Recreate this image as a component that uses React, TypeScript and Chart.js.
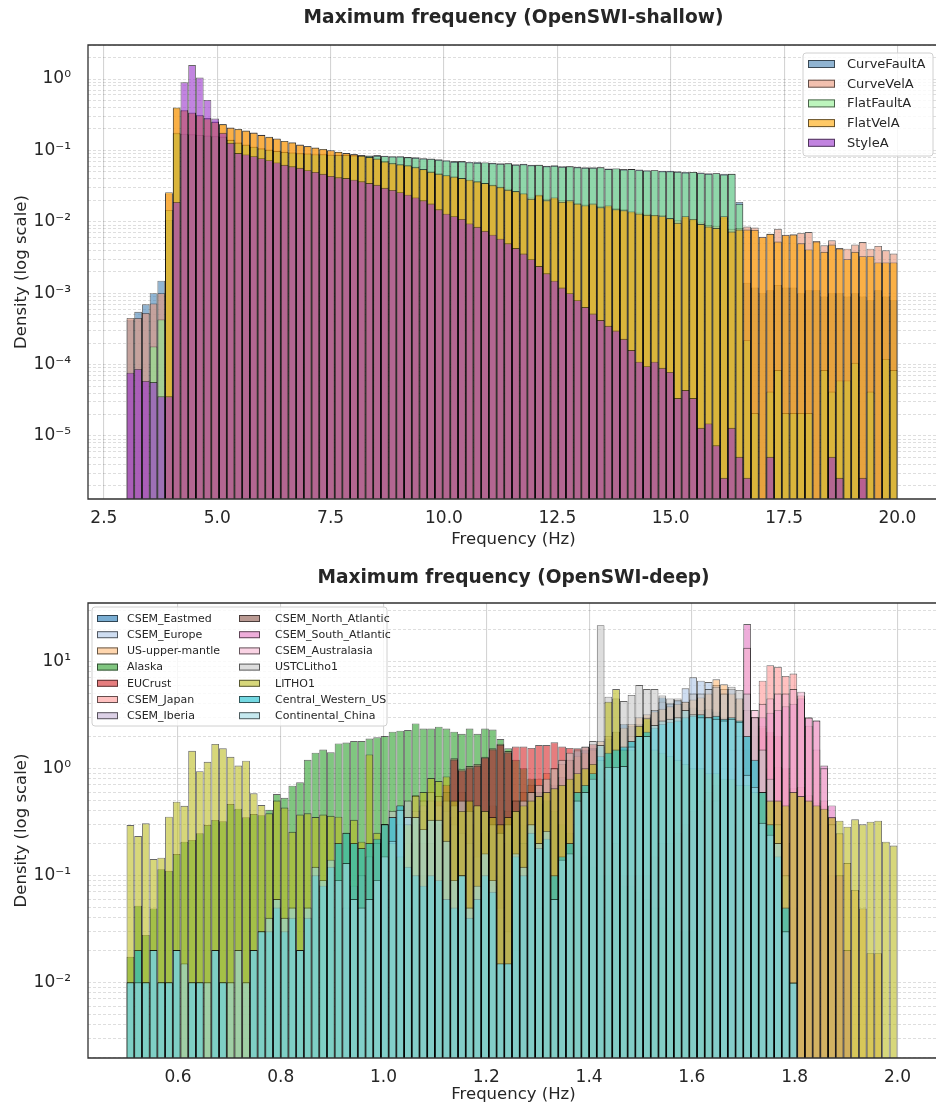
import React, { useEffect, useRef } from "react";
import { Chart, registerables } from "chart.js";

Chart.register(...registerables);

const N = null;
const FONT = '"DejaVu Sans", Verdana, sans-serif';
const TEXT = "#262626";
const FILL_ALPHA = 0.6;

// ================= OpenSWI-shallow =================
const SHALLOW_TITLE = "Maximum frequency (OpenSWI-shallow)";
const SHALLOW_BIN_START = 3.0;
const SHALLOW_BIN_WIDTH = 0.17;
const SHALLOW_X_TICKS = [2.5, 5.0, 7.5, 10.0, 12.5, 15.0, 17.5, 20.0];
const SHALLOW_NAMES = ["CurveFaultA", "CurveVelA", "FlatFaultA", "FlatVelA", "StyleA"];
const SHALLOW_COLORS = ["#4682b4", "#e9967a", "#90ee90", "#ffa500", "#9932cc"];

const curveFaultA = [
  4.3e-4, 5.5e-4, 7.0e-4, 1.0e-3, 1.5e-3, 0.0106, 0.17, 0.17, 0.166, 0.163,
  0.16, 0.157, 0.157, 0.142, 0.13, 0.121, 0.114, 0.108, 0.103, 0.099,
  0.097, 0.094, 0.093, 0.091, 0.09, 0.089, 0.088, 0.087, 0.088, 0.086,
  0.086, 0.085, 0.086, 0.084, 0.083, 0.083, 0.081, 0.08, 0.078, 0.077,
  0.075, 0.073, 0.071, 0.071, 0.069, 0.069, 0.068, 0.067, 0.066, 0.066,
  0.064, 0.065, 0.063, 0.063, 0.061, 0.062, 0.06, 0.06, 0.059, 0.058,
  0.058, 0.058, 0.056, 0.056, 0.055, 0.055, 0.054, 0.053, 0.053, 0.052,
  0.052, 0.051, 0.05, 0.05, 0.049, 0.048, 0.048, 0.047, 0.047, 0.019,
  1.4e-3, 1.2e-3, 1.0e-3, 1.1e-3, 1.3e-3, 1.2e-3, 1.2e-3, 1.0e-3, 1.1e-3, 1.1e-3,
  9e-4, 1.0e-3, 1.0e-3, 9e-4, 1.0e-3, 9e-4, 8e-4, 1.1e-3, 9e-4, 8e-4,
];
const curveVelA = [
  4.5e-4, 4.5e-4, 5.3e-4, 7.2e-4, 1.0e-3, 0.025, 0.39, 0.36, 0.335, 0.31,
  0.285, 0.255, 0.23, 0.21, 0.198, 0.188, 0.178, 0.166, 0.153, 0.147,
  0.135, 0.128, 0.121, 0.114, 0.109, 0.104, 0.101, 0.095, 0.091, 0.089,
  0.084, 0.08, 0.076, 0.071, 0.067, 0.063, 0.061, 0.059, 0.054, 0.051,
  0.048, 0.044, 0.042, 0.041, 0.038, 0.036, 0.035, 0.032, 0.03, 0.029,
  0.026, 0.025, 0.022, 0.023, 0.021, 0.021, 0.02, 0.019, 0.018, 0.0175,
  0.017, 0.0165, 0.016, 0.0155, 0.015, 0.0135, 0.0135, 0.013, 0.012, 0.0125,
  0.011, 0.0105, 0.0115, 0.0105, 0.0098, 0.009, 0.0088, 0.0115, 0.008, 0.0082,
  0.0086, 0.0083, 0.0062, 0.0068, 0.008, 0.0066, 0.0067, 0.007, 0.0072, 0.0054,
  0.0047, 0.0055, 0.0043, 0.0042, 0.0048, 0.0052, 0.0042, 0.0046, 0.004, 0.0036,
];
const flatFaultA = [
  N, N, N, 1.8e-4, 4.3e-4, 0.0147, 0.177, 0.172, 0.168, 0.165,
  0.162, 0.158, 0.155, 0.14, 0.128, 0.12, 0.112, 0.106, 0.102, 0.098,
  0.095, 0.093, 0.091, 0.09, 0.088, 0.088, 0.087, 0.086, 0.086, 0.085,
  0.085, 0.084, 0.084, 0.083, 0.082, 0.082, 0.08, 0.079, 0.077, 0.076,
  0.074, 0.072, 0.069, 0.07, 0.068, 0.067, 0.068, 0.066, 0.065, 0.066,
  0.063, 0.064, 0.062, 0.063, 0.06, 0.061, 0.059, 0.06, 0.058, 0.057,
  0.057, 0.058, 0.055, 0.056, 0.054, 0.055, 0.053, 0.052, 0.053, 0.051,
  0.051, 0.05, 0.049, 0.05, 0.048, 0.047, 0.048, 0.046, 0.047, 0.0178,
  2.2e-4, 2.1e-5, N, 4.2e-5, 8.4e-5, 2.1e-5, 2.1e-5, 2.1e-5, 2.1e-5, N,
  8.4e-5, 4.2e-5, 6e-5, 6e-5, 1.06e-4, N, 4.2e-5, N, 1.2e-4, 8.4e-5,
];
const flatVelA = [
  N, N, N, N, N, 0.026, 0.40, 0.37, 0.34, 0.31,
  0.28, 0.25, 0.234, 0.208, 0.2, 0.19, 0.177, 0.164, 0.155, 0.146,
  0.136, 0.13, 0.12, 0.115, 0.11, 0.105, 0.1, 0.096, 0.092, 0.088,
  0.085, 0.081, 0.077, 0.07, 0.066, 0.064, 0.062, 0.058, 0.055, 0.05,
  0.047, 0.045, 0.043, 0.041, 0.039, 0.037, 0.035, 0.033, 0.031, 0.028,
  0.027, 0.025, 0.021, 0.024, 0.02, 0.022, 0.019, 0.02, 0.018, 0.017,
  0.018, 0.016, 0.017, 0.015, 0.0145, 0.014, 0.013, 0.0125, 0.0125, 0.012,
  0.0113, 0.0097, 0.012, 0.011, 0.0093, 0.0086, 0.0082, 0.012, 0.0073, 0.0078,
  0.0078, 0.0077, 0.0061, 0.0068, 0.0053, 0.0065, 0.0066, 0.005, 0.0041, 0.0053,
  0.0038, 0.0048, 0.0042, 0.003, 0.0038, 0.0033, 0.0033, 0.0027, 0.0027, 0.0027,
];
const styleA = [
  7.7e-5, 8.7e-5, 5.9e-5, 5.7e-5, 3.6e-5, 3.6e-5, 0.019, 0.9, 1.57, 1.05,
  0.51, 0.28, 0.177, 0.128, 0.092, 0.088, 0.083, 0.078, 0.073, 0.068,
  0.063, 0.06, 0.057, 0.053, 0.05, 0.047, 0.044, 0.042, 0.041, 0.039,
  0.037, 0.035, 0.033, 0.03, 0.028, 0.026, 0.024, 0.022, 0.02, 0.018,
  0.015, 0.013, 0.012, 0.011, 0.0095, 0.0085, 0.0075, 0.0066, 0.0058, 0.005,
  0.0043, 0.0036, 0.003, 0.0024, 0.0019, 0.0015, 0.0012, 0.001, 8e-4, 6.4e-4,
  5.2e-4, 4.2e-4, 3.5e-4, 3.0e-4, 2.3e-4, 1.6e-4, 1.1e-4, 9.5e-5, 1.1e-4, 9e-5,
  7.9e-5, 3.4e-5, 4.4e-5, 3.4e-5, 1.3e-5, 1.5e-5, 7.4e-6, 2.6e-6, 1.3e-5, 5.1e-6,
  2.6e-6, N, N, 5.1e-6, N, N, N, N, N, N,
  N, 5.1e-6, 2.6e-6, N, N, 2.6e-6, N, N, N, N,
];

// ================= OpenSWI-deep =================
const DEEP_TITLE = "Maximum frequency (OpenSWI-deep)";
const DEEP_BIN_START = 0.5;
const DEEP_BIN_WIDTH = 0.015;
const DEEP_X_TICKS = [0.6, 0.8, 1.0, 1.2, 1.4, 1.6, 1.8, 2.0];
const DEEP_NAMES = [
  "CSEM_Eastmed", "CSEM_Europe", "US-upper-mantle", "Alaska", "EUCrust", "CSEM_Japan", "CSEM_Iberia",
  "CSEM_North_Atlantic", "CSEM_South_Atlantic", "CSEM_Australasia", "USTCLitho1", "LITHO1",
  "Central_Western_US", "Continental_China",
];
const DEEP_COLORS = [
  "#1f77b4", "#aec7e8", "#ffbb78", "#2ca02c", "#d62728", "#ff9896", "#c5b0d5",
  "#8c564b", "#e377c2", "#f7b6d2", "#c7c7c7", "#bcbd22", "#17becf", "#9edae5",
];

const csemEastmed = [
  N, N, N, N, N, N, N, N, N, N,
  N, N, N, N, N, N, N, N, N, N,
  N, N, N, N, N, N, N, N, N, N,
  N, N, N, N, N, N, N, N, N, N,
  N, N, N, N, N, N, N, N, 0.1, 0.2,
  0.39, 0.3, 0.44, 0.47, 0.5, 0.7, 0.83, 1.2, 1.45, 1.5,
  1.55, 1.6, 1.9, 2.2, 2.6, 2.5, 2.6, 2.8, 3.5, 4.6,
  4.1, 4.35, 4.0, 3.7, 3.5, 3.6, 3.4, 3.0, 2.9, 2.8,
  3.5, 2.5, 0.9, 0.6, 0.4, 0.2, 0.05, N, N, N,
  N, N, N, N, N, N, N, N, N, N,
];
const csemEurope = [
  N, N, N, N, N, N, N, N, N, N,
  N, N, N, N, N, N, N, N, N, N,
  N, N, N, N, N, N, N, N, N, N,
  N, N, N, N, N, N, N, N, N, N,
  N, N, N, N, N, N, N, N, N, N,
  N, N, N, N, N, N, N, N, 0.3, 0.4,
  0.5, 0.6, 0.8, 1.0, 1.5, 2.0, 2.5, 3.0, 3.5, 4.2,
  4.0, 4.3, 5.6, 7.1, 6.6, 6.4, 6.0, 5.5, 5.5, 4.5,
  3.5, 3.0, 2.0, 1.0, 0.5, 0.2, N, N, N, N,
  N, N, N, N, N, N, N, N, N, N,
];
const usUpperMantle = [
  N, N, N, N, N, N, N, N, N, N,
  N, N, N, N, N, N, N, N, N, N,
  N, N, N, N, N, N, N, N, N, N,
  N, N, N, N, N, N, 0.2, 0.3, 0.4, 0.5,
  0.55, 0.5, 0.35, 0.6, 0.3, 0.4, 0.25, 0.45, 0.3, 0.4,
  0.5, 0.6, 0.7, 0.8, 0.9, 1.0, 1.1, 1.2, 1.3, 1.4,
  1.5, 1.8, 2.0, 2.2, 2.4, 2.6, 3.0, 3.2, 3.4, 3.6,
  3.8, 4.0, 4.2, 4.4, 4.6, 5.0, 6.8, 6.1, 5.0, 4.5,
  3.5, 3.0, 2.5, 2.0, 1.03, 0.47, 0.65, 0.67, 0.56, 0.48,
  0.45, 0.35, 0.247, 0.13, 0.073, 0.049, 0.0187, 0.0187, N, N,
];
const alaska = [
  0.0173, 0.052, 0.0277, 0.049, 0.114, 0.11, 0.158, 0.206, 0.214, 0.247,
  0.295, 0.329, 0.32, 0.464, 0.42, 0.348, 0.374, 0.365, 0.41, 0.575,
  0.53, 0.688, 0.74, 1.2, 1.4, 1.5, 1.41, 1.71, 1.74, 1.8,
  1.8, 1.9, 1.95, 2.0, 2.2, 2.25, 2.28, 2.63, 2.35, 2.35,
  2.45, 2.35, 2.2, 2.1, 2.35, 2.1, 2.35, 2.3, 1.88, 1.54,
  1.2, 1.0, 0.8, 0.6, 0.5, 0.4, 0.3, 0.25, 0.2, 0.15,
  0.12, 0.1, 0.1, 0.09, 0.08, 0.08, 0.07, 0.06, 0.05, 0.05,
  0.04, 0.03, 0.03, 0.03, 0.02, 0.02, N, N, N, N,
  0.1, 0.3, 0.4, 0.35, 0.15, 0.03, N, N, N, N,
  N, N, N, N, N, N, N, N, N, N,
];
const euCrust = [
  N, N, N, N, N, N, N, N, N, N,
  N, N, N, N, N, N, N, N, N, N,
  N, N, N, N, N, N, N, N, N, N,
  N, N, N, N, N, N, 0.05, 0.1, 0.2, 0.3,
  0.5, 0.7, 1.2, 0.95, 1.0, 1.05, 1.25, 1.5, 1.65, 1.4,
  1.6, 1.6, 1.55, 1.65, 1.65, 1.75, 1.6, 1.55, 1.54, 1.59,
  1.69, 1.0, 0.5, 0.2, 0.1, 0.1, 0.1, 0.1, 0.15, 0.2,
  0.2, 0.25, 0.3, 0.4, 0.5, 0.6, 0.7, 0.8, 1.0, 1.2,
  1.5, 2.0, 2.4, 2.2, 2.0, 1.0, N, N, N, N,
  N, N, N, N, N, N, N, N, N, N,
];
const csemJapan = [
  N, N, N, N, N, N, N, N, N, N,
  N, N, N, N, N, N, N, N, N, N,
  N, N, N, N, N, N, N, N, N, N,
  N, N, N, N, N, N, N, N, N, N,
  N, N, N, N, N, N, N, N, N, N,
  N, N, N, N, N, N, N, N, N, N,
  N, N, N, N, N, N, N, N, N, N,
  N, N, N, N, N, N, N, N, 0.3, 0.5,
  1.0, 3.0, 6.6, 9.2, 8.9, 7.3, 7.7, 4.8, 2.5, 1.5,
  0.5, 0.1, N, N, N, N, N, N, N, N,
];
const csemIberia = [
  N, N, N, N, N, N, N, N, N, N,
  N, N, N, N, N, N, N, N, N, N,
  N, N, N, N, N, N, N, N, 0.05, 0.08,
  0.1, 0.15, 0.2, 0.3, 0.35, 0.3, 0.35, 0.4, 0.45, 0.5,
  0.45, 0.4, 0.3, 0.25, 0.2, 0.15, 0.1, 0.08, 0.05, 0.03,
  0.02, N, N, N, N, N, N, N, N, N,
  N, N, N, N, N, N, N, N, N, N,
  N, N, N, N, N, N, N, N, N, N,
  N, N, N, N, N, N, N, N, N, N,
  N, N, N, N, N, N, N, N, N, N,
];
const csemNorthAtlantic = [
  N, N, N, N, N, N, N, N, N, N,
  N, N, N, N, N, N, N, N, N, N,
  N, N, N, N, N, N, N, N, N, N,
  N, N, N, N, N, N, N, N, 0.1, 0.2,
  0.3, 0.6, 1.24, 0.98, 1.05, 1.1, 1.28, 1.54, 1.7, 1.45,
  0.5, 0.2, 0.1, 0.05, N, N, N, N, N, N,
  N, N, N, N, N, N, N, N, N, N,
  N, N, N, N, N, N, N, N, N, N,
  N, N, N, N, N, N, N, N, N, N,
  N, N, N, N, N, N, N, N, N, N,
];
const csemSouthAtlantic = [
  N, N, N, N, N, N, N, N, N, N,
  N, N, N, N, N, N, N, N, N, N,
  N, N, N, N, N, N, N, N, N, N,
  N, N, N, N, N, N, N, N, N, N,
  N, N, N, N, N, N, N, N, N, N,
  N, N, N, N, N, N, N, N, N, N,
  N, N, N, N, N, N, N, N, N, N,
  N, N, N, N, N, N, 0.5, 0.8, 1.0, 1.5,
  22.3, 3.0, 3.0, 3.3, 3.5, 3.8, 4.0, 4.5, 2.95, 2.8,
  1.06, 0.45, 0.1, 0.02, N, N, N, N, N, N,
];
const csemAustralasia = [
  N, N, N, N, N, N, N, N, N, N,
  N, N, N, N, N, N, N, N, N, N,
  N, N, N, N, N, N, N, N, N, N,
  N, N, N, N, N, N, N, N, N, N,
  N, N, N, N, N, N, N, N, N, N,
  N, N, N, N, N, N, N, N, N, N,
  N, N, N, N, N, N, N, N, N, N,
  N, N, N, N, N, N, 0.5, 1.0, 1.5, 2.0,
  13.4, 3.5, 4.0, 4.5, 5.0, 5.0, 5.5, 5.2, 3.0, 2.8,
  1.0, 0.3, N, N, N, N, N, N, N, N,
];
const ustcLitho1 = [
  N, N, N, N, N, N, N, N, N, N,
  N, N, N, N, N, N, N, N, N, N,
  N, N, N, N, N, N, N, N, N, N,
  0.1, 0.15, 0.2, 0.3, 0.4, 0.45, 0.5, 0.55, 0.5, 0.6,
  0.55, 0.5, 0.45, 0.5, 0.4, 0.45, 0.4, 0.3, 0.25, 0.3,
  0.4, 0.5, 0.6, 0.7, 0.8, 1.0, 1.2, 1.4, 1.5, 1.6,
  1.8, 21.8, 4.67, 4.5, 4.25, 4.85, 6.0, 5.5, 5.5, 4.8,
  4.5, 4.5, 4.2, 5.0, 5.0, 5.5, 5.8, 5.0, 5.8, 5.4,
  5.0, 3.0, 1.5, 0.8, 0.3, 0.1, N, N, N, N,
  N, N, N, N, N, N, N, N, N, N,
];
const litho1 = [
  0.295, 0.233, 0.306, 0.142, 0.146, 0.353, 0.488, 0.447, 1.46, 0.94,
  1.15, 1.69, 1.54, 1.28, 1.06, 1.18, 0.584, 0.454, 0.38, 0.5,
  0.43, 0.255, 0.37, 0.38, 0.35, 0.37, 0.36, 0.353, 0.25, 0.33,
  0.206, 1.35, 0.25, 0.3, 0.2, 0.15, 0.3, 0.56, 0.6, 0.81,
  0.76, 0.84, 0.5, 0.4, 0.5, 0.45, 0.4, 0.35, 0.3, 0.35,
  0.4, 0.45, 0.5, 0.55, 0.6, 0.65, 0.7, 0.8, 0.9, 1.0,
  1.1, 1.2, 4.2, 5.5, 1.5, 1.5, 2.5, 2.93, 1.5, 1.4,
  1.3, 1.2, 1.1, 1.0, 1.0, 0.9, 0.9, 0.8, 0.8, 0.7,
  0.7, 0.6, 0.6, 0.5, 0.5, 0.45, 0.6, 0.55, 0.5, 0.45,
  0.42, 0.348, 0.324, 0.285, 0.334, 0.3, 0.317, 0.324, 0.206, 0.19,
];
const centralWesternUS = [
  0.01, 0.02, 0.01, 0.02, 0.01, 0.01, 0.02, N, 0.01, 0.01,
  N, 0.02, 0.01, N, N, N, 0.02, 0.03, 0.03, 0.05,
  0.03, 0.04, 0.02, 0.04, 0.1, 0.08, 0.12, 0.2, 0.25, 0.2,
  0.18, 0.2, 0.22, 0.3, 0.35, 0.45, 0.12, 0.1, 0.08, 0.1,
  0.09, 0.06, 0.05, 0.1, 0.04, 0.06, 0.1, 0.07, 0.015, 0.015,
  0.15, 0.1, 0.25, 0.18, 0.22, 0.1, 0.15, 0.2, 0.6, 0.7,
  0.9, 1.3, 1.4, 1.5, 1.6, 1.8, 2.0, 2.2, 2.4, 2.6,
  2.7, 2.8, 3.0, 3.1, 3.2, 3.0, 3.1, 2.9, 3.0, 2.8,
  2.0, 1.2, 0.6, 0.3, 0.15, 0.05, 0.01, N, N, N,
  N, N, N, N, N, N, N, N, N, N,
];
const continentalChina = [
  0.01, 0.01, 0.01, 0.02, 0.01, 0.01, 0.02, 0.015, 0.01, 0.01,
  0.01, 0.02, 0.01, 0.01, 0.02, 0.01, 0.02, 0.03, 0.04, 0.06,
  0.04, 0.05, 0.02, 0.05, 0.12, 0.09, 0.14, 0.09, 0.13, 0.06,
  0.05, 0.06, 0.09, 0.15, 0.21, 0.41, 0.35, 0.35, 0.27, 0.33,
  0.33, 0.21, 0.09, 0.1, 0.05, 0.08, 0.16, 0.09, 0.015, 0.015,
  0.16, 0.12, 0.3, 0.2, 0.26, 0.06, 0.14, 0.16, 0.5, 0.6,
  0.8, 1.65, 1.03, 1.03, 1.05, 1.6, 2.0, 2.0, 2.54, 2.8,
  2.9, 3.0, 3.5, 3.2, 3.0, 3.0, 2.9, 2.8, 2.9, 2.7,
  0.87, 0.67, 0.31, 0.24, 0.2, 0.03, 0.0098, N, N, N,
  N, N, N, N, N, N, N, N, N, N,
];

// ================= helpers =================
function rgba(hex: string, a: number) {
  const h = hex.replace("#", "");
  const r = parseInt(h.slice(0, 2), 16);
  const g = parseInt(h.slice(2, 4), 16);
  const b = parseInt(h.slice(4, 6), 16);
  return `rgba(${r},${g},${b},${a})`;
}

const SUP: Record<string, string> = {
  "-": "\u207B", "0": "\u2070", "1": "\u00B9", "2": "\u00B2", "3": "\u00B3",
  "4": "\u2074", "5": "\u2075", "6": "\u2076", "7": "\u2077", "8": "\u2078", "9": "\u2079",
};
function powLabel(v: number) {
  const l = Math.log10(v);
  const e = Math.round(l);
  if (Math.abs(l - e) > 1e-6) return "";
  return "10" + String(e).split("").map((c) => SUP[c]).join("");
}
function logGrid(min: number, max: number) {
  const out: { value: number; major: boolean }[] = [];
  for (let e = Math.floor(Math.log10(min)); e <= Math.ceil(Math.log10(max)); e++) {
    for (let m = 1; m <= 9; m++) {
      const v = m * Math.pow(10, e);
      if (v >= min && v <= max) out.push({ value: v, major: m === 1 });
    }
  }
  return out;
}

type Spec = {
  title: string;
  binStart: number;
  binWidth: number;
  names: string[];
  colors: string[];
  series: (number | null)[][];
  xTicks: number[];
  xMin: number;
  xMax: number;
  yMin: number;
  yMax: number;
  plotTop: number;
  xAxisHeight: number;
  titleY: number;
  xLabelY: number;
  legend: {
    x: number; y: number; w: number; h: number;
    rowsPerCol: number; rowY0: number; rowStep: number;
    swX: number[]; textX: number[]; swW: number; swH: number; font: number;
  };
};

function drawDecor(chart: any, spec: Spec) {
  const ctx = chart.ctx as CanvasRenderingContext2D;
  const ca = chart.chartArea;
  const axRight = 939;
  ctx.save();
  ctx.strokeStyle = "#303030";
  ctx.lineWidth = 1.3;
  ctx.beginPath();
  ctx.moveTo(axRight, ca.top);
  ctx.lineTo(ca.left, ca.top);
  ctx.lineTo(ca.left, ca.bottom);
  ctx.lineTo(axRight, ca.bottom);
  ctx.stroke();

  const cx = (ca.left + axRight) / 2;
  ctx.fillStyle = TEXT;
  ctx.textAlign = "center";
  ctx.textBaseline = "middle";
  ctx.font = `bold 18.6px ${FONT}`;
  ctx.fillText(spec.title, cx, spec.titleY);
  ctx.font = `16.5px ${FONT}`;
  ctx.fillText("Frequency (Hz)", cx, spec.xLabelY);
  ctx.save();
  ctx.translate(22, (ca.top + ca.bottom) / 2);
  ctx.rotate(-Math.PI / 2);
  ctx.fillText("Density (log scale)", 0, 0);
  ctx.restore();

  const L = spec.legend;
  ctx.beginPath();
  const r = 3;
  ctx.moveTo(L.x + r, L.y);
  ctx.lineTo(L.x + L.w - r, L.y);
  ctx.arcTo(L.x + L.w, L.y, L.x + L.w, L.y + r, r);
  ctx.lineTo(L.x + L.w, L.y + L.h - r);
  ctx.arcTo(L.x + L.w, L.y + L.h, L.x + L.w - r, L.y + L.h, r);
  ctx.lineTo(L.x + r, L.y + L.h);
  ctx.arcTo(L.x, L.y + L.h, L.x, L.y + L.h - r, r);
  ctx.lineTo(L.x, L.y + r);
  ctx.arcTo(L.x, L.y, L.x + r, L.y, r);
  ctx.closePath();
  ctx.fillStyle = "rgba(255,255,255,0.8)";
  ctx.fill();
  ctx.strokeStyle = "#d0d0d0";
  ctx.lineWidth = 1;
  ctx.stroke();
  ctx.font = `${L.font}px ${FONT}`;
  ctx.textAlign = "left";
  ctx.textBaseline = "middle";
  spec.names.forEach((name, i) => {
    const col = Math.floor(i / L.rowsPerCol);
    const row = i % L.rowsPerCol;
    const cy = L.rowY0 + row * L.rowStep;
    const sx = L.swX[col];
    ctx.fillStyle = rgba(spec.colors[i], FILL_ALPHA);
    ctx.fillRect(sx, cy - L.swH / 2, L.swW, L.swH);
    ctx.strokeStyle = "rgba(0,0,0,0.6)";
    ctx.lineWidth = 1;
    ctx.strokeRect(sx + 0.5, cy - L.swH / 2 + 0.5, L.swW - 1, L.swH - 1);
    ctx.fillStyle = TEXT;
    ctx.fillText(name, L.textX[col], cy + 0.5);
  });
  ctx.restore();
}

function makeConfig(spec: Spec): any {
  const n = spec.series[0].length;
  const centers: number[] = [];
  for (let i = 0; i < n; i++) centers.push(spec.binStart + spec.binWidth * (i + 0.5));
  const datasets = spec.series.map((vals, idx) => ({
    type: "bar",
    label: spec.names[idx],
    data: vals.map((v, i) => ({ x: centers[i], y: v })),
    backgroundColor: rgba(spec.colors[idx], FILL_ALPHA),
    borderColor: "rgba(0,0,0,0.6)",
    borderWidth: 0.9,
    grouped: false,
    barPercentage: 1,
    categoryPercentage: 1,
    inflateAmount: 0,
    order: spec.series.length - idx,
  }));
  const yGrid = logGrid(spec.yMin, spec.yMax);
  return {
    type: "bar",
    data: { datasets },
    options: {
      animation: false,
      responsive: false,
      devicePixelRatio: 1,
      events: [],
      layout: { padding: { left: 8, right: 0, top: spec.plotTop, bottom: 0 } },
      plugins: { legend: { display: false }, title: { display: false }, tooltip: { enabled: false } },
      scales: {
        x: {
          type: "linear",
          offset: false,
          min: spec.xMin,
          max: spec.xMax,
          afterBuildTicks: (s: any) => {
            s.ticks = spec.xTicks.map((v) => ({ value: v }));
          },
          afterFit: (s: any) => {
            s.height = spec.xAxisHeight;
          },
          grid: { color: "rgba(0,0,0,0.17)", lineWidth: 1.1, drawTicks: false, offset: false },
          border: { display: false },
          ticks: {
            autoSkip: false,
            maxRotation: 0,
            padding: 9,
            color: TEXT,
            font: { family: FONT, size: 17 },
            callback: (v: any) => Number(v).toFixed(1),
          },
        },
        y: {
          type: "logarithmic",
          min: spec.yMin,
          max: spec.yMax,
          afterBuildTicks: (s: any) => {
            s.ticks = yGrid.map((t) => ({ value: t.value, major: t.major }));
          },
          afterFit: (s: any) => {
            s.width = 80;
          },
          grid: { color: "rgba(0,0,0,0.13)", lineWidth: 1, drawTicks: false },
          border: { display: false, dash: [3, 2] },
          ticks: {
            autoSkip: false,
            padding: 17,
            color: TEXT,
            font: { family: FONT, size: 17 },
            callback: (v: any) => powLabel(Number(v)),
          },
        },
      },
    },
    plugins: [{ id: "decor", afterDraw: (chart: any) => drawDecor(chart, spec) }],
  };
}

const SHALLOW_SPEC: Spec = {
  title: SHALLOW_TITLE,
  binStart: SHALLOW_BIN_START,
  binWidth: SHALLOW_BIN_WIDTH,
  names: SHALLOW_NAMES,
  colors: SHALLOW_COLORS,
  series: [curveFaultA, curveVelA, flatFaultA, flatVelA, styleA],
  xTicks: SHALLOW_X_TICKS,
  xMin: 2.15,
  xMax: 20.85,
  yMin: 1.31e-6,
  yMax: 3.0,
  plotTop: 45,
  xAxisHeight: 56,
  titleY: 18,
  xLabelY: 540,
  legend: {
    x: 803, y: 53, w: 130, h: 103, rowsPerCol: 5, rowY0: 64, rowStep: 19.7,
    swX: [808], textX: [847], swW: 27, swH: 8, font: 13,
  },
};

const DEEP_SPEC: Spec = {
  title: DEEP_TITLE,
  binStart: DEEP_BIN_START,
  binWidth: DEEP_BIN_WIDTH,
  names: DEEP_NAMES,
  colors: DEEP_COLORS,
  series: [
    csemEastmed, csemEurope, usUpperMantle, alaska, euCrust, csemJapan, csemIberia,
    csemNorthAtlantic, csemSouthAtlantic, csemAustralasia, ustcLitho1, litho1,
    centralWesternUS, continentalChina,
  ],
  xTicks: DEEP_X_TICKS,
  xMin: 0.425,
  xMax: 2.075,
  yMin: 1.96e-3,
  yMax: 35.1,
  plotTop: 48,
  xAxisHeight: 52,
  titleY: 23,
  xLabelY: 540,
  legend: {
    x: 92, y: 52, w: 295, h: 119, rowsPerCol: 7, rowY0: 63.5, rowStep: 16.2,
    swX: [97, 239], textX: [127, 275], swW: 21, swH: 7, font: 11,
  },
};

function HistChart({ spec }: { spec: Spec }) {
  const ref = useRef<HTMLCanvasElement>(null);
  useEffect(() => {
    if (!ref.current) return;
    const chart = new Chart(ref.current, makeConfig(spec));
    return () => chart.destroy();
  }, [spec]);
  return <canvas ref={ref} width={936} height={555} style={{ display: "block", width: 936, height: 555 }} />;
}

export default function App() {
  useEffect(() => {
    document.body.style.margin = "0";
    document.body.style.background = "#ffffff";
  }, []);
  return (
    <div style={{ width: 936, height: 1110, background: "#ffffff", overflow: "hidden" }}>
      <HistChart spec={SHALLOW_SPEC} />
      <HistChart spec={DEEP_SPEC} />
    </div>
  );
}
